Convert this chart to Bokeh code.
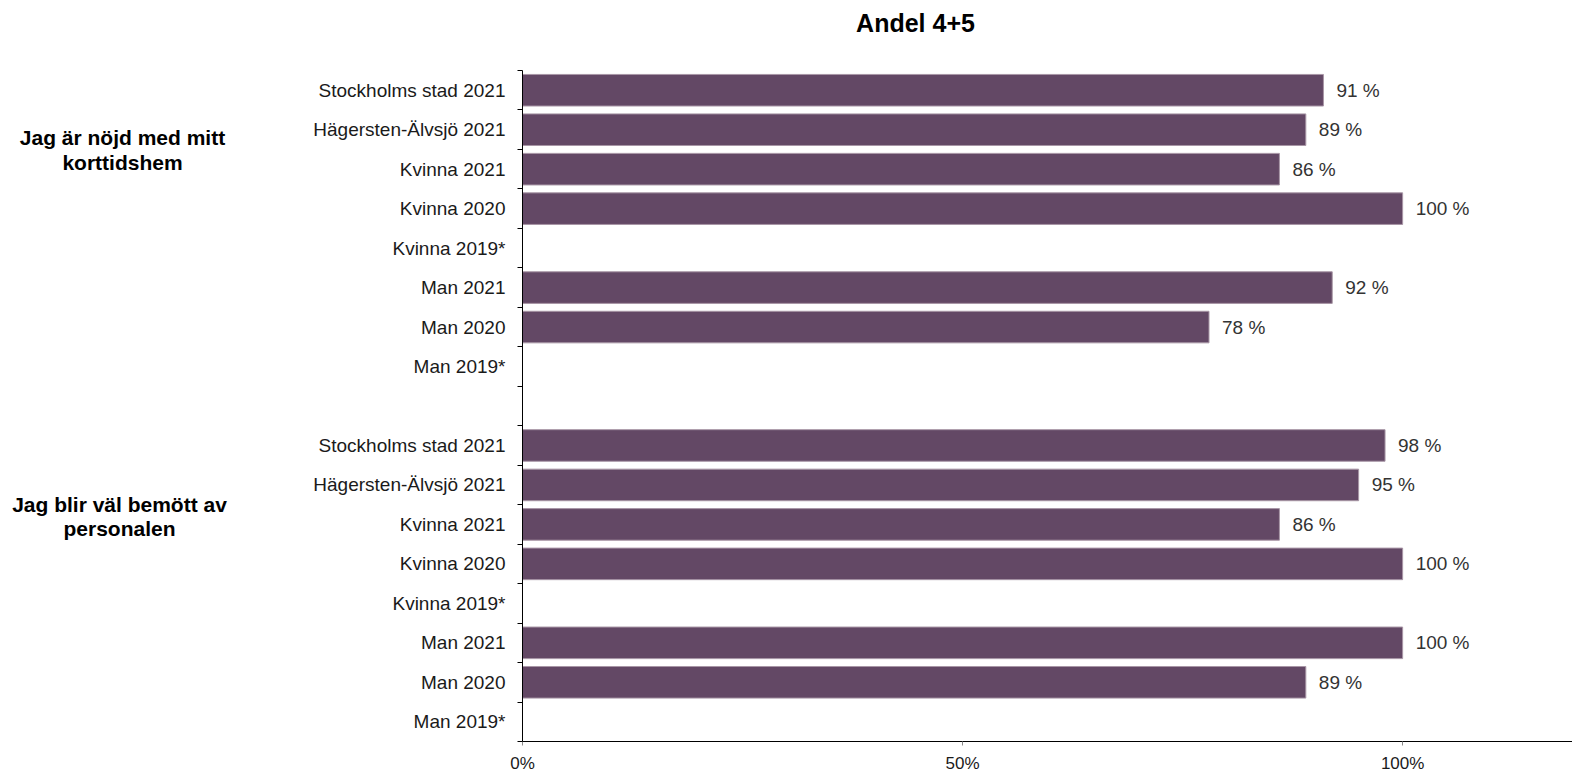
from bokeh.plotting import figure
from bokeh.layouts import row, column
from bokeh.models import FixedTicker, NumeralTickFormatter, ColumnDataSource, Range1d
from bokeh.core.properties import value
from bokeh.embed import file_html
from bokeh.resources import INLINE

title_text = "Andel 4+5"
groups = ["Jag är nöjd med mitt\nkorttidshem", "Jag blir väl bemött av\npersonalen"]
categories = ["Stockholms stad 2021", "Hägersten-Älvsjö 2021", "Kvinna 2021", "Kvinna 2020",
              "Kvinna 2019*", "Man 2021", "Man 2020", "Man 2019*"]
values_group1 = [91, 89, 86, 100, None, 92, 78, None]
values_group2 = [98, 95, 86, 100, None, 100, 89, None]
x_ticks = [0, 0.5, 1.0]

FONT = "Liberation Sans"
BAR = "#634865"
W, H = 1572, 775
LEFT_W = 290
FRAME_LEFT = 522
FRAME_TOP = 70
FRAME_BOTTOM_PAD = 31
BODY_H = H - FRAME_TOP


def clean(fig):
    fig.outline_line_color = None
    fig.xgrid.visible = False
    fig.ygrid.visible = False
    fig.background_fill_color = "white"
    fig.border_fill_color = "white"


n = len(categories)
total_slots = 2 * n + 1
ys, xs, labels_txt = [], [], []
overrides = {}
for gi, vals in enumerate([values_group1, values_group2]):
    for i, (c, v) in enumerate(zip(categories, vals)):
        slot = gi * (n + 1) + i
        y = total_slots - slot - 0.5
        overrides[y] = c
        if v is not None:
            ys.append(y)
            xs.append(v / 100)
            labels_txt.append(f"{v} %")

src = ColumnDataSource(dict(y=ys, x=xs, t=labels_txt))
yr = Range1d(0, total_slots)

# ---------- title strip ----------
top = figure(width=W, height=FRAME_TOP, output_backend="svg", toolbar_location=None,
             x_range=Range1d(0, W), y_range=Range1d(FRAME_TOP, 0),
             x_axis_location=None, y_axis_location=None, min_border=0)
clean(top)
top.text(x=[915], y=[22], text=[title_text], text_align="center", text_baseline="middle",
         text_font=value(FONT), text_font_size="25px", text_font_style="bold",
         text_color="black")

# ---------- main chart ----------
p = figure(width=W - LEFT_W, height=BODY_H, output_backend="svg", toolbar_location=None,
           x_range=Range1d(0, 1.193), y_range=yr)
p.min_border_left = FRAME_LEFT - LEFT_W
p.min_border_right = 0
p.min_border_top = 0
p.min_border_bottom = FRAME_BOTTOM_PAD
clean(p)

p.hbar(y="y", right="x", left=0, height=0.8, source=src, fill_color=BAR,
       line_color="#a896a6", line_width=1)

p.text(x="x", y="y", text="t", source=src, x_offset=13, text_align="left",
       text_baseline="middle", text_font=value(FONT), text_font_size="19px",
       text_color="#333333")

ya = p.yaxis[0]
ya.ticker = FixedTicker(ticks=sorted(overrides.keys()), minor_ticks=list(range(0, total_slots + 1)))
ya.major_label_overrides = overrides
ya.major_tick_out = 0
ya.major_tick_in = 0
ya.minor_tick_out = 5
ya.minor_tick_in = 0
ya.minor_tick_line_color = "black"
ya.axis_line_color = "black"
ya.major_label_standoff = 12
ya.major_label_text_font = FONT
ya.major_label_text_font_size = "19px"
ya.major_label_text_color = "#1a1a1a"

xa = p.xaxis[0]
xa.ticker = FixedTicker(ticks=x_ticks)
xa.formatter = NumeralTickFormatter(format="0%")
xa.major_tick_out = 4
xa.major_tick_in = 0
xa.major_tick_line_color = "#888888"
xa.minor_tick_line_color = None
xa.axis_line_color = "black"
xa.major_label_standoff = 8
xa.major_label_text_font = FONT
xa.major_label_text_font_size = "17px"
xa.major_label_text_color = "#1a1a1a"

# ---------- left panel with group labels ----------
left = figure(width=LEFT_W, height=BODY_H, output_backend="svg", toolbar_location=None,
              x_range=Range1d(0, LEFT_W), y_range=yr,
              x_axis_location=None, y_axis_location=None)
left.min_border_left = 0
left.min_border_right = 0
left.min_border_top = 0
left.min_border_bottom = FRAME_BOTTOM_PAD
clean(left)

slot_px = (BODY_H - FRAME_BOTTOM_PAD) / total_slots
group_center_px = [150, 518]
group_center_x = [122, 119]
line_gap_px = 24.5
gx, gy, gt = [], [], []
for g, cpx, cx in zip(groups, group_center_px, group_center_x):
    lines = g.split("\n")
    for k, line in enumerate(lines):
        ypx = cpx + (k - (len(lines) - 1) / 2) * line_gap_px
        gy.append(total_slots - (ypx - FRAME_TOP) / slot_px)
        gx.append(cx)
        gt.append(line)
left.text(x=gx, y=gy, text=gt, text_align="center", text_baseline="middle",
          text_font=value(FONT), text_font_size="21px", text_font_style="bold",
          text_color="black")

layout = column(top, row(left, p))
open("out.html", "w").write(file_html(layout, INLINE))
